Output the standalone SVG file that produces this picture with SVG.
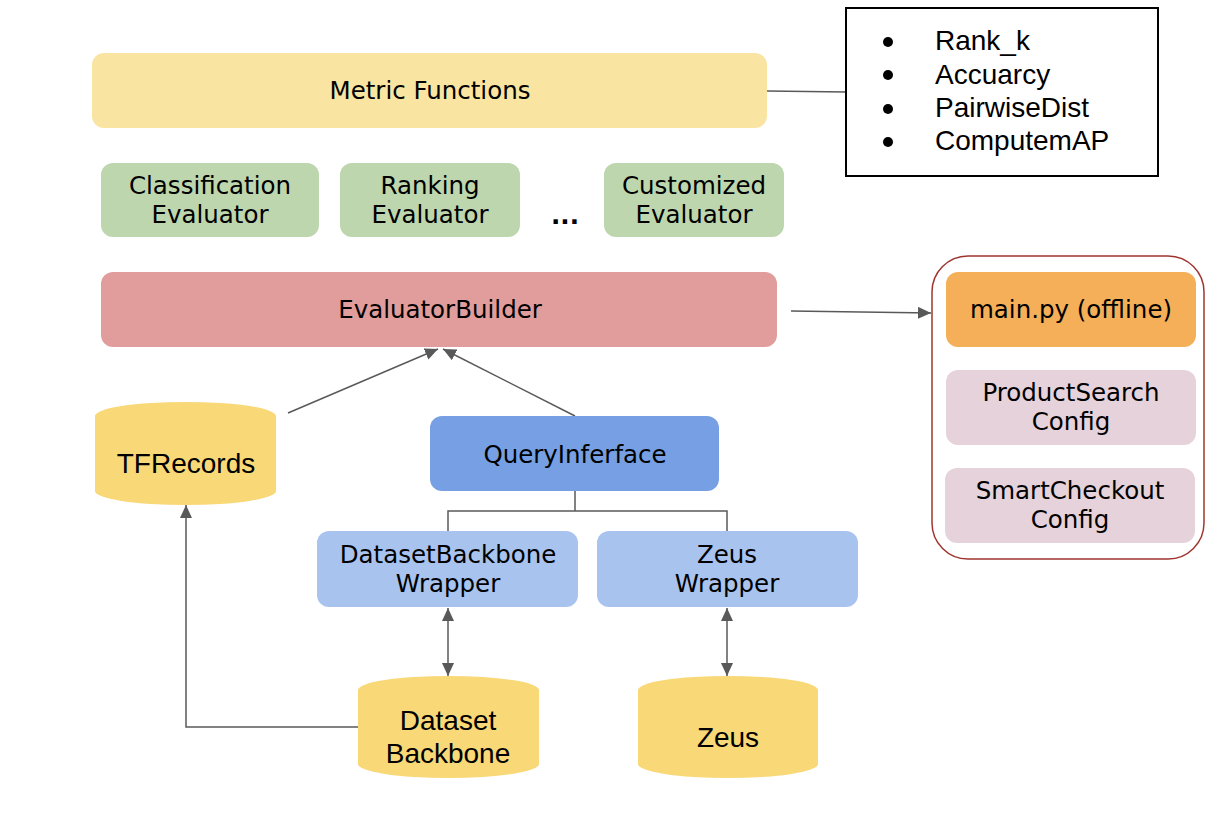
<svg xmlns="http://www.w3.org/2000/svg" width="1214" height="820" viewBox="0 0 1214 820">
<defs>
<marker id="ah" markerUnits="userSpaceOnUse" markerWidth="14" markerHeight="12" refX="13" refY="6" orient="auto-start-reverse">
<path d="M0,0 L13,6 L0,12 Z" fill="#595959"/>
</marker>
<style>
.n{font-family:"DejaVu Sans",Verdana,sans-serif;font-size:24.5px;fill:#000;text-anchor:middle}
.a{font-family:"Liberation Sans",Arial,sans-serif;font-size:28px;fill:#000}
.ac{text-anchor:middle}
.c{fill:none;stroke:#595959;stroke-width:1.5}
.cyl{fill:#f9d877}
</style>
</defs>
<rect width="1214" height="820" fill="#fff"/>

<g id="connectors">
<line class="c" x1="767" y1="91" x2="846" y2="92"/>
<line class="c" x1="791" y1="311" x2="931" y2="313" marker-end="url(#ah)"/>
<line class="c" x1="288" y1="413" x2="438" y2="349" marker-end="url(#ah)"/>
<line class="c" x1="575" y1="416" x2="443" y2="349" marker-end="url(#ah)"/>
<polyline class="c" points="575,491 575,511"/>
<polyline class="c" points="448,531 448,511 727,511 727,531"/>
<line class="c" x1="448" y1="608" x2="448" y2="676" marker-start="url(#ah)" marker-end="url(#ah)"/>
<line class="c" x1="727" y1="608" x2="727" y2="676" marker-start="url(#ah)" marker-end="url(#ah)"/>
<polyline class="c" points="358,727 186,727 186,505" marker-end="url(#ah)"/>
</g>

<g id="metric-functions">
<rect x="92" y="53" width="675" height="75" rx="12" fill="#f9e5a1"/>
<text class="n" x="430" y="99">Metric Functions</text>
</g>

<g id="metric-list">
<rect x="846" y="8" width="312" height="168" fill="#fff" stroke="#000" stroke-width="2"/>
<circle cx="888" cy="42" r="5"/>
<circle cx="888" cy="75" r="5"/>
<circle cx="888" cy="109" r="5"/>
<circle cx="888" cy="142" r="5"/>
<text class="a" x="935" y="50">Rank_k</text>
<text class="a" x="935" y="84">Accuarcy</text>
<text class="a" x="935" y="117">PairwiseDist</text>
<text class="a" x="935" y="150">ComputemAP</text>
</g>

<g id="classification-evaluator">
<rect x="101" y="163" width="218" height="74" rx="12" fill="#bdd6ad"/>
<text class="n" x="210" y="194">Classification</text>
<text class="n" x="210" y="223">Evaluator</text>
</g>

<g id="ranking-evaluator">
<rect x="340" y="163" width="180" height="74" rx="12" fill="#bdd6ad"/>
<text class="n" x="430" y="194">Ranking</text>
<text class="n" x="430" y="223">Evaluator</text>
</g>

<g id="ellipsis">
<text class="n" x="565" y="224" font-weight="bold">...</text>
</g>

<g id="customized-evaluator">
<rect x="604" y="163" width="180" height="74" rx="12" fill="#bdd6ad"/>
<text class="n" x="694" y="194">Customized</text>
<text class="n" x="694" y="223">Evaluator</text>
</g>

<g id="evaluator-builder">
<rect x="101" y="272" width="676" height="75" rx="12" fill="#e09d9b"/>
<text class="n" x="440" y="318">EvaluatorBuilder</text>
</g>

<g id="config-container">
<rect x="932" y="256" width="272" height="303" rx="36" fill="none" stroke="#a0352f" stroke-width="1.5"/>
</g>

<g id="main-py">
<rect x="946" y="272" width="250" height="75" rx="12" fill="#f4af58"/>
<text class="n" x="1071" y="318">main.py (offline)</text>
</g>

<g id="productsearch-config">
<rect x="946" y="370" width="250" height="75" rx="12" fill="#e6d2da"/>
<text class="n" x="1071" y="401">ProductSearch</text>
<text class="n" x="1071" y="430">Config</text>
</g>

<g id="smartcheckout-config">
<rect x="945" y="468" width="250" height="75" rx="12" fill="#e6d2da"/>
<text class="n" x="1070" y="499">SmartCheckout</text>
<text class="n" x="1070" y="528">Config</text>
</g>

<g id="tfrecords">
<path class="cyl" d="M95,416 A90.5,14 0 0 1 276,416 V491 A90.5,14 0 0 1 95,491 Z"/>
<text class="a ac" x="186" y="473">TFRecords</text>
</g>

<g id="query-interface">
<rect x="430" y="416" width="289" height="75" rx="12" fill="#76a0e3"/>
<text class="n" x="575" y="463">QueryInferface</text>
</g>

<g id="datasetbackbone-wrapper">
<rect x="317" y="531" width="261" height="76" rx="12" fill="#a9c3ef"/>
<text class="n" x="448" y="563">DatasetBackbone</text>
<text class="n" x="448" y="592">Wrapper</text>
</g>

<g id="zeus-wrapper">
<rect x="597" y="531" width="261" height="76" rx="12" fill="#a9c3ef"/>
<text class="n" x="727" y="563">Zeus</text>
<text class="n" x="727" y="592">Wrapper</text>
</g>

<g id="dataset-backbone">
<path class="cyl" d="M358,690 A90.5,14 0 0 1 539,690 V764 A90.5,14 0 0 1 358,764 Z"/>
<text class="a ac" x="448" y="730">Dataset</text>
<text class="a ac" x="448" y="763">Backbone</text>
</g>

<g id="zeus">
<path class="cyl" d="M638,690 A90,14 0 0 1 818,690 V764 A90,14 0 0 1 638,764 Z"/>
<text class="a ac" x="728" y="747">Zeus</text>
</g>
</svg>
